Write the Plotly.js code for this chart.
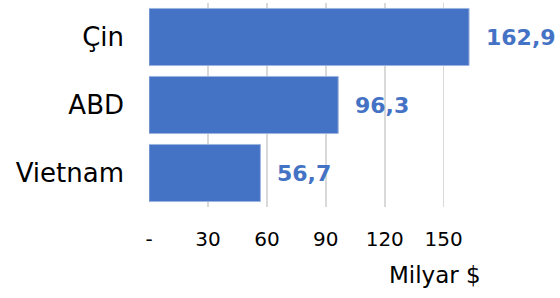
<!DOCTYPE html>
<html>
<head>
<meta charset="utf-8">
<script src="https://cdn.plot.ly/plotly-3.0.1.min.js"></script>
<style>html,body{margin:0;padding:0;background:#fff;}#chart{width:560px;height:298px;}</style>
</head>
<body>
<div id="chart"></div>
<script>
const categories = ["Vietnam", "ABD", "Çin"];
const values = [56.7, 96.3, 162.9];
const valueLabels = ["56,7", "96,3", "162,9"];
const tickValues = [0, 30, 60, 90, 120, 150];
const tickLabels = ["-", "30", "60", "90", "120", "150"];
const axisTitle = "Milyar $";

const FONT = "'DejaVu Sans', sans-serif";
const BLUE = "#4472C4";

const trace = {
  type: "bar",
  orientation: "h",
  y: categories,
  x: values,
  marker: {color: BLUE, line: {color: "#9db4e0", width: 1}},
  hoverinfo: "none"
};

const annotations = values.map((v, i) => ({
  x: v, y: categories[i], xref: "x", yref: "y",
  text: "<b>" + valueLabels[i] + "</b>",
  showarrow: false, xanchor: "left", xshift: 15,
  font: {family: FONT, size: 22, color: BLUE}
}));
annotations.push({
  xref: "paper", yref: "paper", x: 1, y: -0.335,
  xanchor: "right", yanchor: "middle",
  text: axisTitle, showarrow: false,
  font: {family: FONT, size: 23, color: "#000"}
});

const layout = {
  width: 560, height: 298,
  margin: {l: 149, r: 77, t: 3, b: 91},
  paper_bgcolor: "#fff", plot_bgcolor: "#fff",
  bargap: 0.16,
  showlegend: false,
  xaxis: {
    range: [0, 170],
    tickvals: tickValues, ticktext: tickLabels,
    showgrid: true, gridcolor: "#d9d9d9", gridwidth: 1.5,
    zeroline: false, showline: false,
    ticks: "", ticklabelstandoff: 18,
    tickfont: {family: FONT, size: 20, color: "#000"},
    fixedrange: true
  },
  yaxis: {
    showgrid: false, zeroline: false, showline: false,
    ticks: "", ticklabelstandoff: 24,
    tickfont: {family: FONT, size: 26, color: "#000"},
    fixedrange: true
  },
  annotations: annotations
};

Plotly.newPlot("chart", [trace], layout, {displayModeBar: false, staticPlot: true});
</script>
</body>
</html>
